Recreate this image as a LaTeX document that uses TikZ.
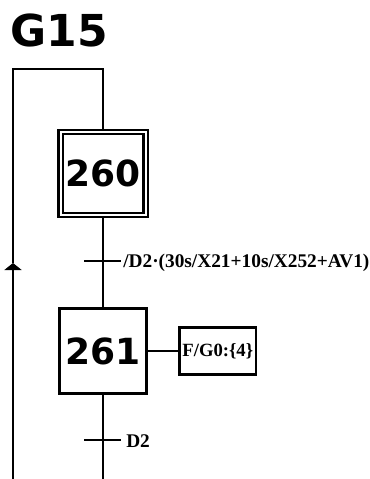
\documentclass[tikz,border=0pt]{standalone}
\usepackage{fontspec}
\setmainfont{Liberation Serif}
\newfontfamily\stepfont{DejaVu Sans}
\usetikzlibrary{arrows.meta}

\begin{document}
\begin{tikzpicture}[x=0.75pt, y=-0.75pt,
  link/.style={line width=2.2pt},
  bar/.style={line width=2pt},
  stepbox/.style={draw, line width=2.3pt, minimum width=65.25pt, minimum height=63.75pt,
                  font=\stepfont\fontsize{27}{30}\selectfont\bfseries, inner sep=0pt},
  initstep/.style={stepbox, double, line width=1.7pt, double distance=1.5pt,
                   minimum width=63.75pt, minimum height=62.25pt},
  action/.style={draw, line width=2pt, minimum width=57.4pt, minimum height=35.25pt,
                 font=\fontsize{14}{16}\selectfont\bfseries, inner sep=0pt},
  cond/.style={font=\fontsize{14.5}{16}\selectfont\bfseries, anchor=base west, inner sep=0pt},
  title/.style={font=\stepfont\fontsize{33}{36}\selectfont\bfseries, anchor=base west, inner sep=0pt},
]
  \useasboundingbox (0,0) rectangle (370,479);

  \node[title] (g15) at (10,46.5) {G15};

  % steps and action
  \node[initstep] (s260) at (103,173.6) {260};
  \node[stepbox]  (s261) at (103,351)   {261};
  \node[action]   (a261) at (217.8,351) {F/G0:\{4\}};

  % transitions
  \coordinate (t1) at (103,261);
  \coordinate (t2) at (103,440);
  \coordinate (bot) at (103,479);
  \coordinate (loopbot) at (13,479);
  \coordinate (looptip) at (13,263);
  \coordinate (looptop) at (13,69);

  \draw[link] (s260.south) -- (s261.north);
  \draw[link] (s261.south) -- (bot);
  \draw[link] (s261.east) -- (a261.west);
  \draw[link, -{Triangle[width=12.75pt, length=5.25pt]}] (loopbot) -- (looptip);
  \draw[link] (looptip) -- (looptop) -| (s260.north);

  \draw[bar] ([xshift=-14.25pt]t1) -- ([xshift=13.5pt]t1);
  \draw[bar] ([xshift=-14.25pt]t2) -- ([xshift=13.5pt]t2);
  \node[cond] (c1) at (123,267)   {/D2·(30s/X21+10s/X252+AV1)};
  \node[cond] (c2) at (126,447.3) {D2};
\end{tikzpicture}
\end{document}
